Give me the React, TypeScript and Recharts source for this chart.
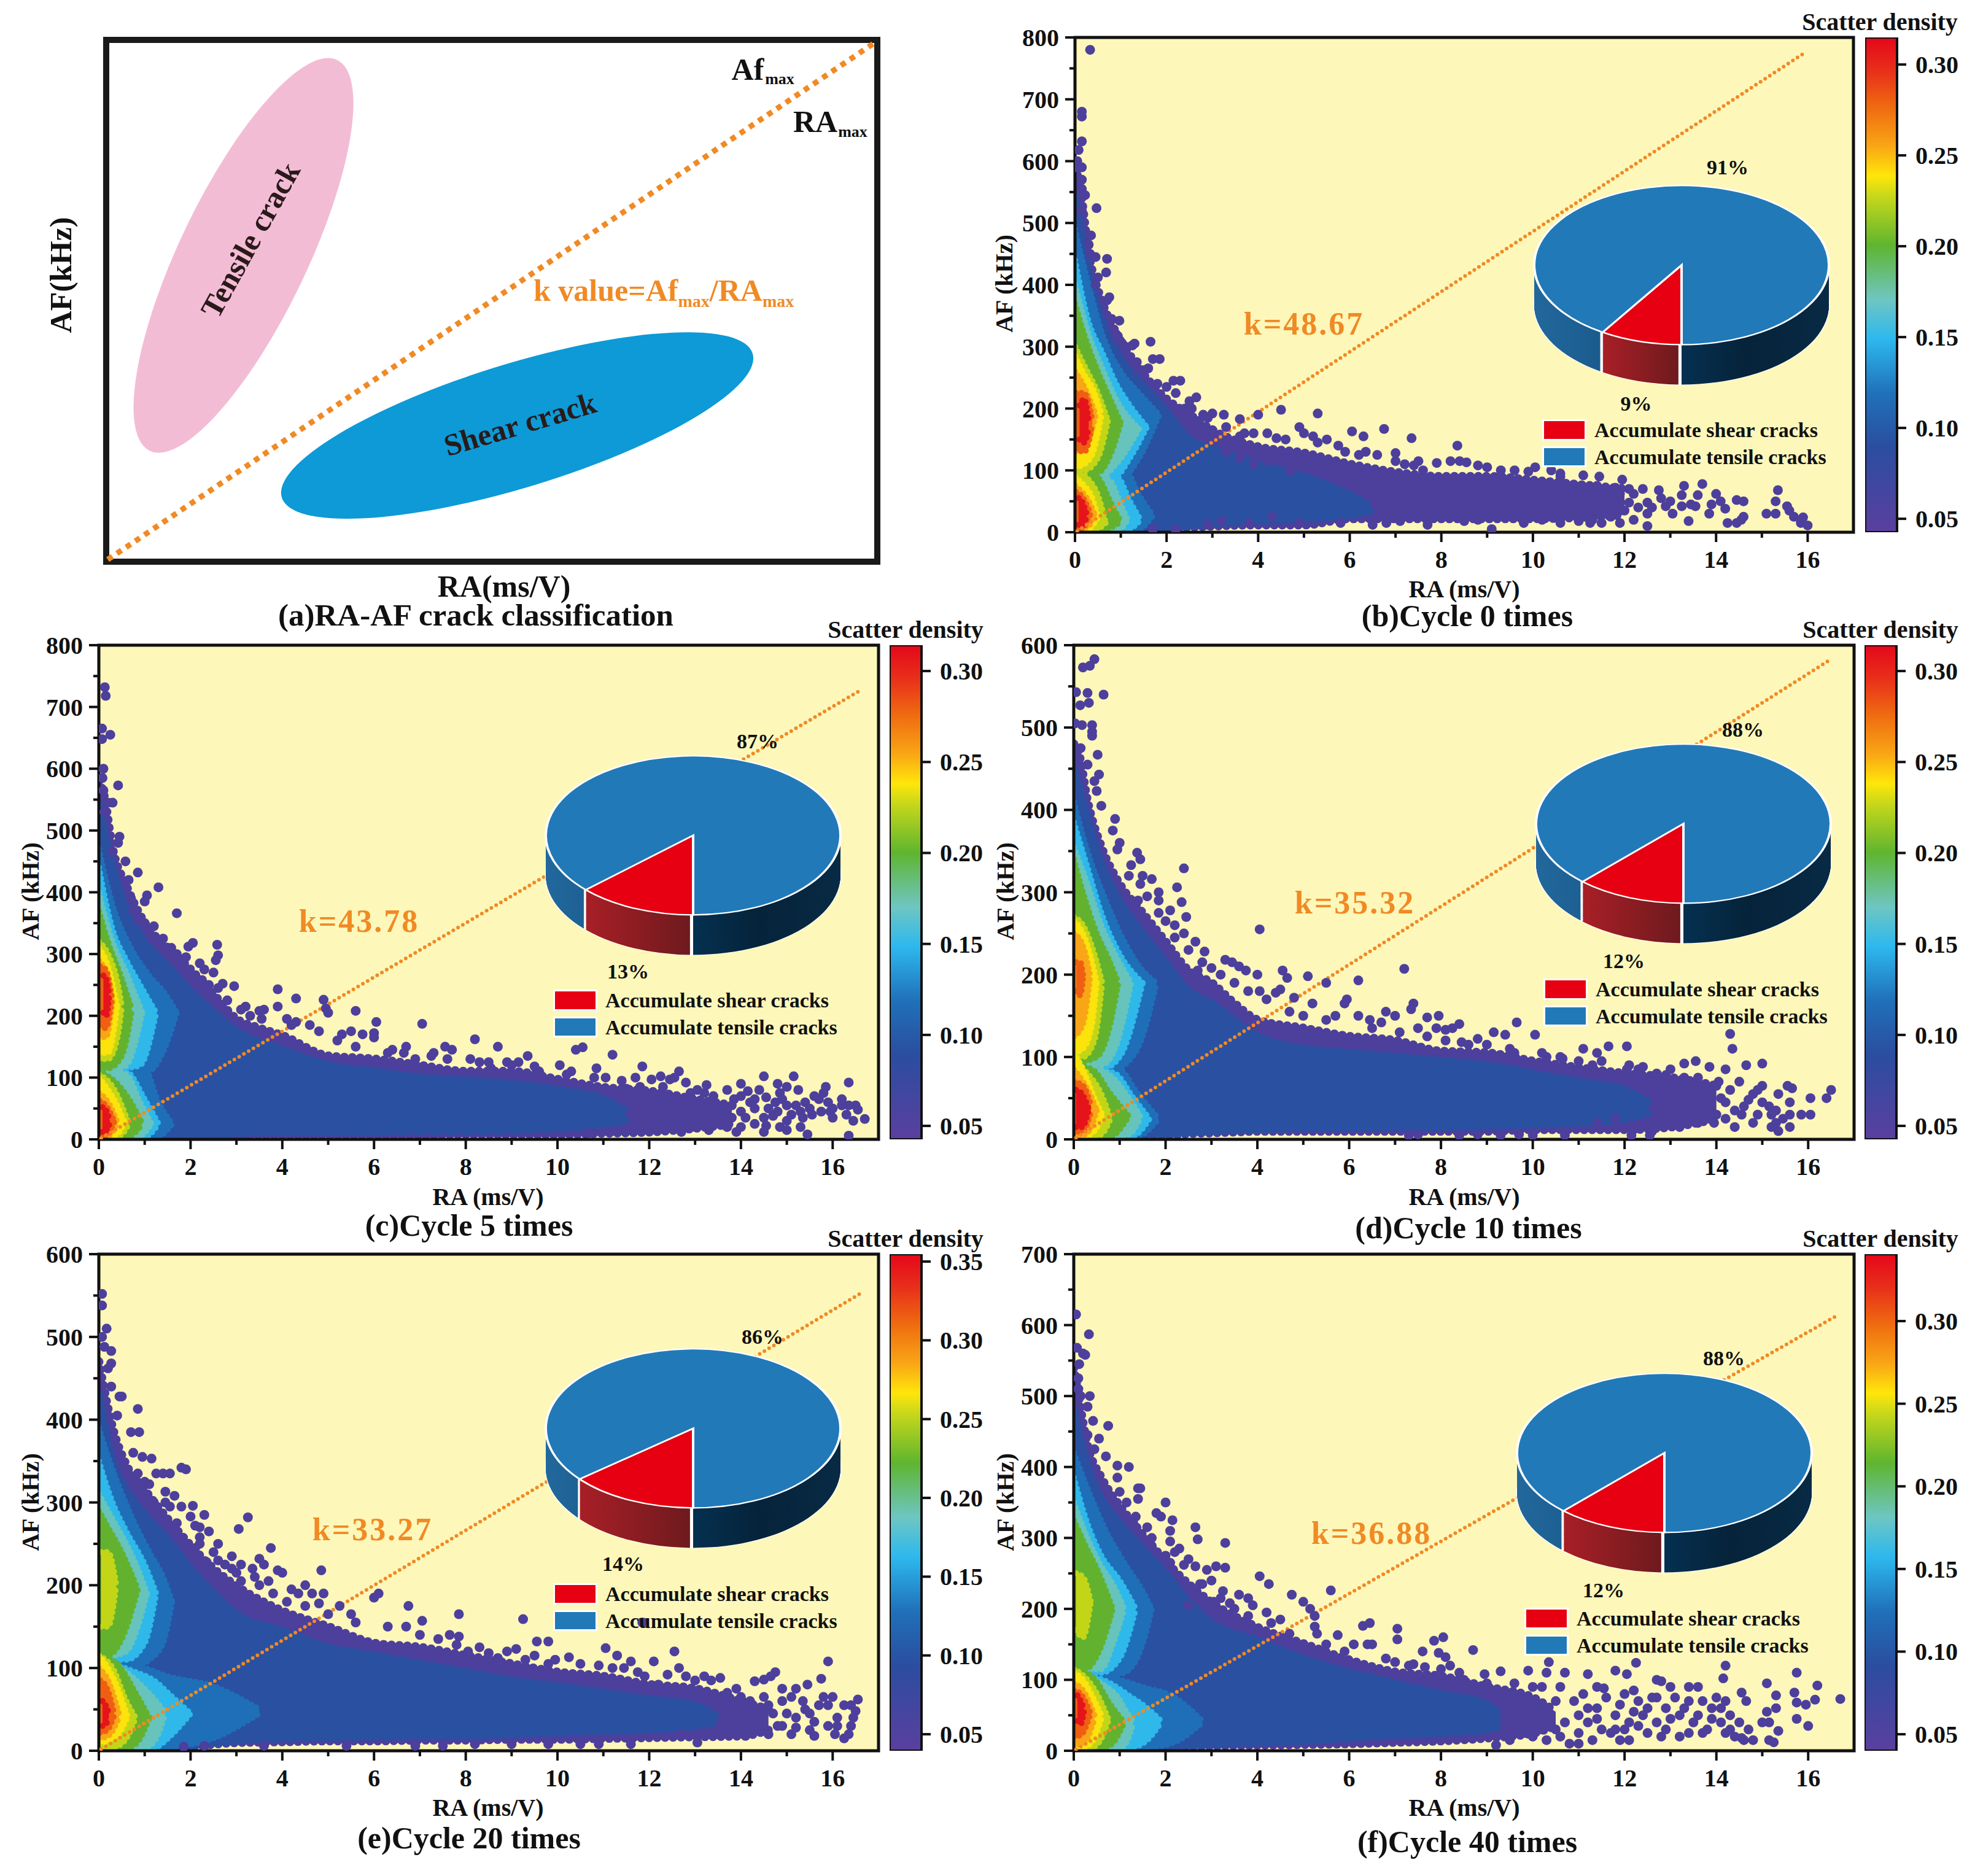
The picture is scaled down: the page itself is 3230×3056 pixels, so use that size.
import React from 'react';
import { ComposedChart, Area, Scatter, Line, Bar, XAxis, YAxis, ReferenceArea, PieChart, Pie, Cell } from 'recharts';

const FONT = '"Liberation Serif", serif';
const ORANGE = '#f08a24';

// density colours, level 0 is the sparse purple edge, level 10 the red core
const levelColors = ['#4d3f9c', '#2a50a2', '#1f6fb8', '#2fb8ea', '#66c4bc', '#62b22f', '#c2d617', '#fbe30c', '#f9a616', '#ef5f12', '#e5141b'];
const barStops: [number, string][] = [[0, '#5b3f9e'], [0.17, '#2b4da0'], [0.28, '#2070b8'], [0.39, '#2db8ee'], [0.47, '#6ec6c2'], [0.58, '#5fb52f'], [0.68, '#c8d81a'], [0.72, '#ffe60a'], [0.78, '#f9a615'], [0.86, '#ef6a10'], [0.93, '#e8311a'], [1, '#e5071a']];

const raTicks = [0, 1, 2, 3, 4, 5, 6, 7, 8, 9, 10, 11, 12, 13, 14, 15, 16];
const afTicks800 = [0, 50, 100, 150, 200, 250, 300, 350, 400, 450, 500, 550, 600, 650, 700, 750, 800];
const afTicks600 = [0, 50, 100, 150, 200, 250, 300, 350, 400, 450, 500, 550, 600];
const afTicks700 = [0, 50, 100, 150, 200, 250, 300, 350, 400, 450, 500, 550, 600, 650, 700];
const barTicks = [0.05, 0.1, 0.15, 0.2, 0.25, 0.3];
const barTicksE = [0.05, 0.1, 0.15, 0.2, 0.25, 0.3, 0.35];

// [level, RA positions, lower AF, upper AF]
type Band = [number, number[], number[], number[]];

const bandsB: Band[] = [
  [0, [0, .1, .3, .6, 1, 1.5, 2, 2.5, 3, 4, 5, 6, 7, 8, 9, 10, 11, 12], [0, 0, 0, 0, 2, 4, 5, 8, 10, 12, 12, 22, 22, 22, 22, 22, 24, 28], [590, 560, 450, 370, 310, 255, 215, 190, 165, 138, 128, 110, 97, 90, 90, 84, 77, 70]],
  [1, [0, .3, .6, 1, 1.5, 2, 2.5, 3, 4, 5, 6, 6.5], [0, 0, 0, 2, 4, 6, 10, 14, 18, 22, 28, 35], [540, 420, 340, 280, 235, 195, 150, 135, 110, 90, 60, 40]],
  [2, [0, .3, .6, 1, 1.4, 1.84], [70, 75, 80, 85, 120, 190], [490, 400, 320, 260, 225, 190]],
  [2, [0, .5, 1.1, 1.4, 1.7], [0, 0, 0, 4, 27], [100, 100, 100, 60, 27]],
  [3, [0, .3, .6, .9, 1.2, 1.57], [80, 85, 85, 90, 120, 170], [440, 340, 290, 240, 205, 170]],
  [3, [0, .5, .92, 1.2, 1.43], [0, 0, 0, 5, 20], [95, 95, 90, 50, 20]],
  [4, [0, .3, .6, .9, 1.4], [85, 85, 90, 110, 167], [400, 320, 265, 215, 167]],
  [4, [0, .5, .75, 1, 1.15], [0, 0, 0, 6, 20], [95, 90, 85, 45, 20]],
  [5, [0, .2, .5, .8, 1], [90, 90, 95, 130, 177], [370, 320, 260, 210, 177]],
  [5, [0, .3, .54, .8, 1], [0, 0, 2, 8, 17], [100, 100, 85, 45, 17]],
  [6, [0, .2, .5, .72], [100, 100, 120, 180], [300, 270, 225, 180]],
  [6, [0, .3, .5, .67], [0, 0, 5, 15], [100, 85, 60, 15]],
  [7, [0, .2, .4, .58], [105, 110, 130, 190], [285, 255, 230, 190]],
  [7, [0, .2, .35, .5], [0, 3, 8, 25], [90, 75, 60, 25]],
  [8, [0, .2, .45], [130, 135, 190], [260, 235, 190]],
  [8, [0, .15, .3, .42], [2, 5, 10, 30], [75, 65, 50, 30]],
  [9, [.02, .2, .38], [135, 130, 175], [225, 225, 180]],
  [9, [.02, .15, .33], [6, 6, 28], [65, 58, 32]],
  [10, [.1, .2, .3], [150, 145, 170], [205, 215, 180]],
  [10, [.08, .15, .25], [12, 10, 25], [55, 50, 30]],
];

const bandsC: Band[] = [
  [0, [0, .1, .3, .6, 1, 1.5, 2, 2.5, 3, 3.5, 4, 5, 6, 7, 8, 9, 10, 11, 12, 13, 13.8], [0, 0, 0, 0, 2, 5, 5, 6, 6, 7, 7, 7, 7, 7, 8, 8, 8, 10, 12, 18, 25], [580, 560, 470, 410, 350, 310, 275, 235, 195, 180, 168, 135, 130, 120, 110, 110, 97, 84, 78, 65, 55]],
  [1, [0, .3, .6, 1, 1.5, 2, 2.5, 3, 4, 5, 6, 7, 8, 9, 10, 11, 11.5], [0, 0, 0, 2, 5, 6, 8, 10, 12, 12, 12, 14, 14, 15, 18, 25, 30], [540, 440, 375, 320, 280, 240, 205, 175, 145, 120, 110, 100, 95, 90, 80, 65, 45]],
  [2, [0, .3, .7, 1.1, 1.45, 1.7], [100, 100, 105, 110, 150, 205], [470, 380, 310, 265, 235, 205]],
  [2, [0, .5, 1, 1.3, 1.6], [0, 0, 0, 4, 25], [120, 120, 115, 60, 25]],
  [3, [0, .3, .6, .9, 1.25], [110, 110, 115, 120, 205], [440, 340, 290, 250, 205]],
  [3, [0, .6, 1, 1.3], [0, 0, 3, 25], [115, 110, 65, 25]],
  [4, [0, .3, .6, .95], [110, 112, 120, 205], [400, 320, 270, 205]],
  [4, [0, .6, .9, 1.15], [0, 0, 5, 25], [115, 105, 60, 25]],
  [5, [0, .2, .5, .72], [115, 115, 135, 210], [370, 320, 260, 210]],
  [5, [0, .4, .7, .95], [0, 1, 6, 25], [110, 90, 60, 25]],
  [6, [0, .2, .42, .5], [130, 130, 170, 215], [320, 300, 250, 215]],
  [6, [0, .3, .5, .65], [0, 2, 8, 25], [105, 85, 55, 25]],
  [7, [0, .2, .4], [140, 140, 215], [310, 280, 215]],
  [7, [0, .2, .4, .55], [2, 3, 8, 28], [100, 80, 55, 28]],
  [8, [0, .15, .3], [170, 165, 225], [290, 270, 225]],
  [8, [0, .2, .4], [3, 5, 28], [75, 60, 28]],
  [9, [.03, .15, .28], [185, 180, 225], [280, 275, 230]],
  [9, [.02, .15, .33], [6, 6, 28], [62, 55, 30]],
  [10, [.1, .16, .22], [205, 200, 230], [265, 260, 235]],
  [10, [.08, .15, .24], [12, 12, 28], [52, 48, 30]],
];

const bandsD: Band[] = [
  [0, [0, .1, .3, .6, 1, 1.5, 2, 2.5, 3, 3.5, 4, 5, 6, 7, 8, 9, 10, 11, 12, 13, 14], [0, 0, 0, 0, 2, 5, 5, 7, 8, 9, 10, 10, 10, 10, 10, 10, 12, 12, 12, 15, 25], [480, 470, 410, 355, 310, 275, 240, 205, 190, 165, 145, 135, 125, 120, 107, 105, 95, 87, 80, 75, 65]],
  [1, [0, .3, .6, 1, 1.5, 2, 2.5, 3, 4, 5, 6, 7, 8, 9, 10, 11, 12, 12.5], [0, 0, 0, 2, 5, 6, 8, 10, 12, 14, 14, 15, 15, 16, 18, 20, 25, 32], [450, 390, 335, 290, 250, 215, 180, 165, 125, 110, 105, 100, 95, 90, 80, 70, 60, 45]],
  [2, [0, .3, .7, 1.1, 1.5, 1.8], [75, 75, 80, 90, 125, 190], [410, 350, 290, 240, 205, 190]],
  [2, [0, .5, 1, 1.4, 1.85], [0, 0, 0, 3, 25], [90, 90, 85, 55, 25]],
  [3, [0, .3, .6, 1, 1.5], [85, 85, 85, 100, 190], [385, 330, 275, 225, 190]],
  [3, [0, .5, .9, 1.3, 1.65], [0, 0, 1, 4, 25], [85, 85, 80, 50, 25]],
  [4, [0, .3, .6, .9, 1.25], [90, 90, 90, 110, 190], [355, 310, 260, 225, 190]],
  [4, [0, .5, .85, 1.2, 1.45], [0, 0, 2, 6, 25], [85, 85, 75, 50, 28]],
  [5, [0, .2, .5, .75, .97], [95, 95, 100, 130, 190], [340, 300, 250, 220, 190]],
  [5, [0, .4, .8, 1.2], [0, 0, 3, 28], [90, 85, 55, 28]],
  [6, [0, .2, .45, .62], [100, 100, 120, 190], [270, 260, 225, 190]],
  [6, [0, .3, .6, .8], [0, 1, 6, 25], [95, 80, 55, 25]],
  [7, [0, .2, .4, .5], [105, 110, 140, 190], [265, 250, 215, 190]],
  [7, [0, .2, .45, .62], [1, 3, 10, 30], [105, 85, 50, 30]],
  [8, [0, .2, .35], [125, 140, 195], [250, 235, 200]],
  [8, [0, .2, .35, .5], [3, 5, 12, 35], [85, 70, 55, 35]],
  [9, [.05, .14, .2], [180, 175, 195], [215, 215, 200]],
  [9, [0, .2, .38], [8, 10, 35], [70, 65, 40]],
  [10, [.05, .18, .32], [15, 15, 35], [60, 55, 38]],
];

const bandsE: Band[] = [
  [0, [0, .1, .3, .6, 1, 1.5, 2, 2.5, 3, 4, 5, 6, 7, 8, 9, 10, 11, 12, 13, 14, 14.6], [0, 0, 0, 0, 2, 3, 5, 8, 10, 11, 12, 12, 13, 13, 14, 14, 15, 16, 17, 18, 25], [470, 440, 390, 345, 315, 280, 248, 220, 199, 169, 150, 130, 125, 115, 105, 95, 90, 80, 75, 60, 50]],
  [1, [0, .3, .6, 1, 1.5, 2, 2.5, 3, 4, 5, 6, 7, 8, 9, 10, 11, 12, 13, 13.5], [0, 0, 0, 0, 3, 6, 9, 12, 15, 16, 17, 18, 18, 20, 22, 24, 26, 30, 36], [430, 350, 315, 285, 255, 220, 190, 165, 145, 125, 115, 105, 95, 85, 78, 70, 62, 55, 40]],
  [2, [0, .3, .7, 1.1, 1.4, 1.6], [100, 100, 100, 110, 130, 180], [390, 340, 285, 240, 210, 180]],
  [2, [0, 1, 1.5, 2.5, 3.5], [0, 0, 3, 15, 45], [110, 100, 90, 78, 50]],
  [3, [0, .3, .6, 1, 1.25], [110, 110, 110, 130, 190], [350, 300, 265, 225, 190]],
  [3, [0, .8, 1.2, 1.6, 2], [0, 0, 3, 20, 45], [110, 95, 85, 65, 45]],
  [4, [0, .3, .6, .85, 1.05], [115, 115, 120, 150, 190], [310, 280, 250, 220, 190]],
  [4, [0, .6, 1, 1.25, 1.45], [0, 0, 3, 15, 45], [110, 95, 75, 60, 45]],
  [5, [0, .2, .5, .85], [115, 115, 135, 195], [290, 270, 240, 195]],
  [5, [0, .4, .8, 1.1], [0, 0, 8, 40], [115, 105, 70, 40]],
  [6, [.05, .2, .38], [150, 150, 200], [240, 240, 200]],
  [6, [0, .3, .6, .8], [0, 3, 15, 40], [115, 100, 60, 40]],
  [7, [0, .2, .45, .62], [10, 12, 22, 40], [115, 100, 70, 42]],
  [8, [0, .2, .45], [15, 18, 42], [100, 85, 42]],
  [9, [.03, .18, .33], [22, 25, 42], [85, 75, 45]],
  [10, [.08, .15, .22], [30, 32, 40], [60, 55, 45]],
];

const bandsF: Band[] = [
  [0, [0, .1, .3, .6, 1, 1.5, 2, 2.5, 3, 4, 5, 6, 7, 8, 9, 10, 10.5], [0, 0, 0, 0, 1, 3, 5, 6, 7, 8, 9, 10, 12, 14, 18, 25, 35], [540, 500, 430, 385, 345, 305, 267, 235, 209, 174, 151, 128, 111, 105, 90, 75, 55]],
  [1, [0, .3, .6, 1, 1.5, 2, 2.5, 3, 4, 5, 6, 7, 8, 9, 9.3], [0, 0, 0, 0, 3, 5, 7, 9, 12, 14, 18, 22, 25, 30, 35], [480, 400, 355, 320, 285, 250, 210, 180, 155, 130, 110, 95, 80, 65, 50]],
  [2, [0, .3, .7, 1.1, 1.5, 1.7], [100, 100, 105, 110, 150, 200], [420, 370, 310, 265, 225, 200]],
  [2, [0, 1, 1.5, 2.2, 2.8], [0, 0, 3, 12, 40], [110, 100, 90, 75, 42]],
  [3, [0, .3, .6, 1, 1.35], [110, 110, 110, 130, 200], [385, 320, 275, 240, 200]],
  [3, [0, .8, 1.2, 1.6, 1.9], [0, 0, 3, 15, 40], [110, 95, 78, 60, 42]],
  [4, [0, .3, .6, .85, 1.1], [115, 115, 115, 150, 200], [350, 300, 260, 235, 200]],
  [4, [0, .6, 1, 1.15, 1.3], [0, 0, 3, 12, 40], [110, 95, 72, 55, 42]],
  [5, [0, .25, .55, .85], [115, 115, 140, 200], [325, 290, 250, 200]],
  [5, [0, .4, .8, 1.1], [0, 0, 8, 40], [115, 105, 65, 40]],
  [6, [.05, .2, .37], [170, 160, 210], [250, 245, 210]],
  [6, [0, .3, .55, .75], [0, 2, 12, 42], [115, 100, 75, 45]],
  [7, [0, .2, .42, .6], [2, 4, 15, 45], [110, 100, 75, 50]],
  [8, [0, .2, .45], [8, 10, 45], [95, 85, 50]],
  [9, [0, .15, .35], [20, 22, 50], [85, 80, 55]],
  [10, [.08, .15, .22], [42, 38, 55], [78, 70, 60]],
];

const dotsB = [[.33, 780], [.15, 680], [.15, 672], [.15, 632], [.08, 618], [.05, 600], [.05, 590], [.15, 590], [.15, 570], [.15, 555], [.22, 545], [.47, 524], [.15, 520], [.35, 480], [.3, 465], [.33, 450], [.45, 445], [.7, 442], [.68, 420], [.5, 412], [.45, 400], [.75, 380], [.7, 375], [.8, 345], [.97, 342], [.9, 320], [.98, 310], [1.3, 305], [1.65, 308], [1.1, 300], [1.25, 302], [1.7, 280], [1.85, 280], [1.6, 265], [2.15, 245], [2.3, 245], [1.8, 240], [2.65, 218], [2.55, 200], [2.4, 200], [2.8, 190], [3, 192], [3.25, 190], [3.6, 183], [4, 190], [4.5, 198], [5.3, 192], [4.9, 170], [5, 160], [5.2, 155], [4.4, 152], [3.9, 160], [3.6, 155], [6.05, 163], [6.3, 155], [6.75, 167], [7.35, 152], [6.35, 130], [6.2, 125], [8.35, 140], [8.2, 115], [8.4, 115], [8.55, 113], [7.2, 110], [7, 115], [7.4, 108], [7.6, 100], [9, 105], [9.6, 100], [10.05, 105], [10.4, 100], [10.6, 90], [11.45, 90], [11.95, 85], [12.1, 70], [13.3, 75], [13.7, 78], [13.25, 60], [14, 62], [14.1, 50], [14.45, 52], [14.6, 50], [14.2, 38], [13.85, 30], [13.4, 18], [14.25, 15], [14.55, 20], [14.45, 15], [14.6, 25], [15.35, 68], [15.3, 50], [15.1, 30], [15.3, 30], [15.55, 42], [15.6, 35], [15.7, 25], [15.9, 24], [15.85, 15], [16, 11], [12.5, 48], [12.75, 68], [12.6, 40], [12.9, 42], [13.05, 30], [13.25, 42], [13.45, 45], [13.55, 42], [12.5, 10], [12.5, 30], [12.2, 20], [12.1, 48], [11.75, 45], [11.7, 25], [11.45, 30], [11.25, 15], [11.5, 15], [5.8, 15], [6.5, 12], [6.8, 15], [7.1, 18], [7.7, 12], [8.5, 18], [8.8, 20], [9.1, 5], [9.8, 15], [10.2, 20], [10.6, 15], [11, 18], [4.9, 15], [4.3, 25], [3.8, 15], [3.2, 18], [2.9, 12], [2.2, 4], [1.7, 5], [3.9, 110], [4.2, 115], [4.7, 100], [3.3, 130], [3.6, 120], [3, 165], [2.7, 180], [1.35, 275], [1.5, 262], [2, 235], [2.2, 225], [2.5, 212], [2.9, 185], [3.3, 170], [3.7, 160], [4.2, 160], [4.6, 150], [5.3, 145], [5.5, 150], [5.75, 140], [5.9, 130], [6.6, 125], [7, 128], [7.5, 115], [7.9, 112], [8.8, 108], [9.3, 100], [9.9, 98], [10.6, 95], [11.1, 92], [11.4, 75], [11.8, 72], [12.2, 62], [12.4, 70], [12.3, 40], [12.8, 55], [13, 50], [11.9, 62], [12, 35], [11.3, 20], [11.9, 15], [13.6, 60], [13.9, 45]];

const dotsC = [[.13, 732], [.15, 718], [.07, 665], [.07, 648], [.25, 655], [.1, 600], [.08, 585], [.42, 573], [.1, 565], [.3, 545], [.2, 545], [.12, 530], [.45, 490], [.42, 480], [.3, 465], [.58, 450], [.85, 432], [.65, 420], [1.3, 408], [1.05, 395], [1, 385], [.7, 390], [.75, 370], [1.7, 366], [.85, 355], [1, 350], [1.2, 345], [1.15, 325], [1.58, 310], [1.95, 312], [2.05, 318], [2.58, 315], [2.6, 298], [2.55, 290], [2.3, 275], [2.5, 270], [2.1, 265], [2.25, 258], [2.7, 252], [2.95, 248], [2.6, 245], [3.1, 210], [3.5, 208], [3.55, 195], [3.9, 243], [3.9, 215], [4.3, 228], [4.9, 226], [4.95, 212], [5, 205], [5.6, 208], [4.3, 190], [4.2, 185], [6.05, 190], [7.05, 187], [5.5, 175], [5.3, 170], [5.75, 170], [6, 172], [6, 165], [6.7, 150], [6.4, 145], [6.65, 140], [7.7, 145], [7.55, 150], [8.2, 162], [8.7, 150], [7.25, 135], [7.3, 140], [9.35, 135], [8.1, 130], [8.3, 125], [8.55, 115], [8.9, 125], [9, 120], [9.15, 125], [10.05, 120], [10.4, 145], [10.55, 149], [11.2, 137], [9.6, 110], [10.3, 110], [10.85, 115], [11.85, 118], [11.05, 100], [11.4, 95], [11.7, 100], [11.8, 85], [12.05, 97], [12.25, 102], [12.45, 97], [12.65, 110], [12.55, 100], [12.8, 92], [13.05, 80], [13.25, 88], [13.2, 75], [14, 90], [14.5, 102], [14.15, 78], [14.4, 80], [14.8, 90], [15.15, 102], [15, 85], [14.85, 75], [15.25, 80], [15.4, 60], [15.2, 55], [14.75, 60], [14, 70], [13.85, 65], [13.6, 50], [13.4, 45], [13.3, 40], [13.5, 30], [14.3, 50], [14.7, 38], [14.1, 35], [14.3, 25], [14.55, 22], [14.85, 20], [15, 15], [15.35, 35], [15.1, 40], [15.45, 8], [16.35, 6], [15.85, 85], [16.35, 92], [15.8, 75], [15.7, 65], [15.95, 45], [15.75, 45], [16, 50], [16.2, 65], [16.35, 55], [16.55, 48], [16.7, 33], [16.45, 30], [16.2, 55], [13, 20], [13.05, 40], [12.7, 30], [12.15, 25], [11.8, 15], [11.5, 18], [10.7, 10], [12.2, 15], [12.7, 12], [14.8, 45], [14.55, 68], [13.7, 80], [15.55, 40], [1.4, 325], [1.7, 300], [1.9, 295], [2.2, 285], [2.4, 250], [2.8, 225], [3.2, 215], [3.6, 210], [3.3, 200], [4.1, 195], [4.6, 185], [4.8, 175], [5.2, 160], [5.6, 150], [6.3, 140], [6.9, 130], [7.6, 130], [8.5, 125], [9.5, 118], [10.2, 105], [10.8, 100], [11.5, 82], [12.3, 85], [12.9, 75], [13.4, 70], [13.8, 55], [14.2, 60], [14.6, 50], [15, 55], [15.3, 45], [15, 30], [14.5, 35], [14, 45], [14, 20], [13.7, 20], [13.3, 15], [13.8, 35], [15.6, 70], [15.9, 60], [16.3, 40], [13.9, 12], [14.5, 12], [15.3, 20], [16, 35], [16.5, 55], [14.3, 65], [14.9, 65], [15.5, 50]];

const dotsD = [[.45, 583], [.35, 575], [.2, 573], [.05, 543], [.3, 542], [.65, 540], [.33, 530], [.14, 527], [.03, 505], [.18, 503], [.4, 503], [.4, 495], [.4, 490], [.15, 475], [.52, 467], [.3, 455], [.55, 443], [.45, 435], [.5, 423], [.9, 389], [.6, 405], [.85, 375], [1, 360], [.95, 352], [1.38, 348], [1.45, 340], [1.25, 333], [2.4, 329], [1.5, 320], [1.7, 316], [1.45, 310], [2.25, 306], [1.85, 300], [1.85, 290], [2.35, 288], [1.85, 275], [2.1, 278], [2.45, 270], [2, 265], [2.65, 240], [4.05, 255], [2.85, 228], [3.3, 218], [3.45, 215], [3.6, 210], [3.75, 205], [3, 208], [2.7, 205], [4, 200], [4.55, 205], [4.65, 196], [5.1, 198], [4.4, 178], [4.05, 180], [4.5, 182], [4.8, 172], [5.5, 190], [7.2, 207], [6.2, 193], [5.95, 170], [5.9, 165], [5.2, 165], [7.4, 165], [7.35, 158], [6.8, 155], [7, 150], [7.7, 148], [7.95, 150], [6.2, 150], [6.45, 145], [6.7, 142], [8.4, 140], [8.1, 133], [8.25, 135], [7.9, 135], [7.7, 125], [8.45, 118], [8.8, 122], [9.15, 130], [9.4, 127], [9.65, 142], [10.05, 127], [9.6, 105], [10.3, 100], [10.65, 98], [11.1, 110], [11.4, 105], [11.65, 113], [12.05, 113], [12.1, 90], [11, 95], [11.3, 90], [12.3, 85], [12.05, 85], [13.3, 92], [13.55, 95], [13.85, 88], [14.3, 128], [14.35, 110], [14.2, 85], [14.65, 90], [15, 92], [15, 65], [14.9, 60], [14.5, 70], [14.05, 70], [13.65, 60], [13.3, 75], [12.9, 78], [13, 60], [12.6, 72], [13.4, 50], [14.1, 50], [14.7, 48], [15.15, 40], [15.35, 55], [15.65, 62], [15.55, 65], [15.3, 35], [15.6, 30], [15.85, 30], [16.05, 30], [16.05, 50], [16.4, 50], [16.5, 60], [15.6, 15], [15.35, 10], [15.2, 15], [14.55, 30], [14.2, 25], [13.95, 20], [13.6, 20], [13.25, 25], [12.15, 5], [12.55, 5], [12.2, 12], [11.8, 25], [11.4, 20], [10.7, 5], [10, 5], [9.7, 6], [9.3, 5], [8.8, 6], [8.4, 5], [7.3, 5], [7.5, 6], [12.8, 40], [14.4, 35], [15.45, 25], [14.3, 60], [13.8, 40], [1.2, 320], [1.6, 295], [1.4, 290], [2.2, 260], [2.2, 245], [2.5, 230], [2.4, 250], [2.8, 215], [3.2, 200], [3.5, 190], [3.8, 180], [4.2, 170], [4.7, 155], [5, 150], [5.5, 145], [5.7, 150], [6.5, 135], [7.1, 130], [7.5, 135], [8.1, 120], [8.6, 115], [9, 115], [9.5, 110], [10.2, 105], [10.6, 100], [11.5, 95], [12.4, 88], [12.7, 80], [13, 85], [13.6, 75], [14, 65], [13.4, 65], [14.2, 45], [14.8, 55], [14.6, 40], [13.5, 35], [14, 30], [14.9, 30], [15.2, 30], [14.8, 20], [15, 45], [15.6, 45], [15.3, 20], [13.2, 15], [14.4, 15], [12.6, 10]];

const dotsE = [[.07, 552], [.07, 538], [.17, 510], [.07, 500], [.12, 488], [.27, 483], [.27, 468], [.2, 462], [.27, 440], [.45, 428], [.5, 428], [.85, 413], [.4, 405], [.7, 385], [.88, 385], [.75, 360], [.95, 355], [1.15, 353], [.85, 335], [1.8, 342], [1.9, 340], [1.25, 335], [1.4, 335], [1.55, 335], [1, 325], [1.1, 322], [.8, 320], [1.45, 313], [1.65, 308], [2.05, 296], [1.45, 300], [1.55, 295], [1.8, 295], [2, 283], [3.25, 282], [3.05, 268], [2.1, 272], [2.2, 270], [2.2, 258], [2.2, 250], [2.1, 245], [2.35, 228], [2.6, 230], [2.9, 235], [2.75, 225], [3.1, 225], [3.35, 220], [3.75, 245], [3.5, 232], [3.6, 225], [3, 215], [3.9, 218], [4, 215], [4.85, 218], [3.1, 205], [3.5, 200], [4.5, 200], [4.65, 190], [4.35, 190], [4.1, 180], [4.9, 190], [4.8, 178], [3.8, 190], [5.25, 175], [6, 185], [6.1, 190], [6.75, 175], [5.5, 165], [7.05, 157], [7.85, 165], [9.25, 159], [6.7, 150], [7.65, 140], [7.85, 138], [7.8, 128], [9.55, 132], [9.8, 132], [8.05, 120], [8.5, 118], [8.9, 120], [9.1, 123], [9.5, 115], [9.95, 110], [10.25, 113], [10.9, 103], [11.05, 124], [11.3, 115], [11.6, 108], [11.45, 100], [11.75, 95], [12.1, 108], [12.55, 120], [12.8, 90], [13.2, 90], [13.55, 88], [13.35, 85], [12.2, 80], [12.65, 100], [14.3, 84], [14.5, 86], [14.75, 95], [14.65, 90], [15.9, 108], [15.75, 87], [15.45, 80], [14.9, 75], [14.2, 60], [13.8, 55], [15.1, 65], [15.35, 60], [15.4, 50], [15.5, 45], [15.9, 55], [16, 65], [16.25, 55], [16.55, 62], [16.5, 48], [16.45, 40], [16.4, 30], [16.1, 40], [15.9, 30], [16.05, 20], [16.25, 15], [16.35, 20], [15.5, 25], [15.2, 28], [14.8, 30], [14.4, 30], [14.05, 30], [13.05, 10], [12.7, 20], [11.85, 155], [14.2, 40], [14.6, 55], [15, 45], [13.6, 40], [11.6, 8], [10.5, 8], [10.9, 8], [9.8, 8], [9, 8], [8.2, 8], [7.5, 6], [6.9, 6], [5.4, 6], [3.6, 6], [2.3, 6], [1.85, 5], [1.2, 300], [1.7, 275], [2.3, 285], [2.4, 265], [2.6, 250], [2.5, 240], [2.9, 220], [3.4, 210], [3.7, 205], [4.2, 195], [4.5, 175], [5, 165], [5.6, 155], [6.3, 150], [7, 140], [7.4, 135], [8.3, 125], [8.7, 112], [9.3, 110], [9.8, 105], [10.5, 105], [11.2, 100], [11.9, 90], [12.4, 92], [13, 85], [13.7, 70], [14, 65], [14.5, 65], [14.9, 60], [14.7, 45], [14.9, 30], [15.2, 40], [15.6, 35], [15.7, 55], [15.8, 65], [16.1, 30], [15.1, 20], [15.6, 18], [14.6, 20], [14.1, 18], [16.4, 55], [13.9, 75], [15.2, 75]];

const dotsF = [[.05, 615], [.33, 587], [.07, 568], [.2, 560], [.25, 558], [.12, 545], [.1, 525], [.1, 510], [.15, 500], [.35, 500], [.3, 485], [.42, 465], [.75, 458], [.3, 445], [.55, 440], [.45, 425], [.7, 415], [.95, 402], [1.2, 400], [.95, 385], [1.4, 370], [1.45, 370], [1, 365], [1.4, 355], [1.15, 350], [1, 340], [2, 350], [1.8, 335], [1.9, 330], [2.15, 325], [1.35, 330], [1.6, 315], [2.1, 310], [2.65, 315], [2.7, 298], [2.1, 295], [3.3, 293], [1.8, 280], [2, 275], [2.1, 265], [2.4, 262], [2.65, 260], [2.9, 255], [3.1, 260], [3.3, 258], [4.05, 246], [4.25, 235], [2.65, 225], [2.75, 235], [3, 240], [3.25, 225], [5.6, 226], [3.6, 220], [3.8, 215], [4.75, 220], [3.05, 210], [3.4, 208], [3.9, 205], [5, 210], [5.15, 200], [2.5, 205], [4.2, 195], [5.25, 190], [4.5, 185], [5.25, 175], [5.3, 165], [5.75, 163], [6.3, 176], [6.45, 180], [7.05, 172], [7.05, 157], [7.85, 155], [8.05, 160], [6.1, 150], [6.4, 150], [6.5, 150], [7.6, 140], [7.95, 138], [8.1, 132], [8.7, 142], [7, 125], [7.4, 122], [7.65, 118], [8.2, 120], [8.4, 110], [8.95, 108], [9.3, 112], [9.9, 113], [10.3, 110], [10.35, 125], [10.7, 110], [11.2, 108], [11.8, 113], [12.05, 108], [12.25, 124], [12.7, 100], [12.8, 98], [14.2, 120], [14.15, 102], [14.2, 70], [14.55, 82], [14.65, 70], [15.1, 95], [15.75, 110], [15.7, 82], [15.3, 78], [15.75, 68], [15.95, 65], [16.15, 72], [16.2, 92], [16.7, 73], [15.75, 45], [16, 35], [15.1, 55], [15.3, 60], [15.15, 40], [15, 40], [15.35, 28], [15.25, 12], [15.15, 15], [14.8, 15], [14.55, 18], [14.4, 20], [14.3, 30], [14.1, 40], [13.9, 60], [13.6, 90], [13.4, 90], [13.1, 75], [13, 90], [12.9, 60], [12.5, 60], [12.7, 40], [12.3, 35], [12, 30], [12, 80], [12.2, 55], [11.8, 50], [11.4, 60], [11.1, 80], [11.4, 90], [11.55, 88], [11, 25], [10.8, 10], [10.5, 30], [10.3, 15], [10, 40], [9.6, 30], [9.2, 8], [10.5, 70], [10.6, 90], [11.7, 25], [11.9, 15], [13.4, 25], [13.6, 50], [13.8, 30], [14, 75], [13.3, 60], [12.8, 20], [12.1, 15], [12.3, 70], [12.6, 75], [11.2, 40], [11.5, 30], [1.3, 320], [1.7, 300], [2.3, 285], [2.2, 280], [2.5, 270], [2.8, 235], [3.2, 215], [3.5, 200], [3.8, 190], [4.3, 180], [4.7, 165], [5.5, 150], [5.9, 140], [6.8, 130], [7.3, 120], [8, 115], [8.5, 100], [9, 95], [9.6, 95], [10, 90], [10.2, 90], [10.9, 70], [11, 50], [11.2, 60], [11.4, 45], [11.6, 75], [11.9, 65], [12.2, 85], [12.4, 50], [12.5, 25], [12.7, 75], [12.9, 30], [13, 45], [13.2, 50], [13.2, 20], [13.4, 70], [13.5, 40], [13.7, 70], [13.7, 25], [13.9, 45], [14.1, 60], [14.2, 25], [14.3, 50], [14.5, 40], [14.7, 30], [14.6, 15], [10, 20], [10.2, 30], [10.7, 40], [10.6, 20], [11, 10], [11.3, 15], [11.8, 30], [12.1, 40], [9.8, 25], [9.5, 15]];

// fit line ends, [RA, AF]
const lineB = [[.05, 2], [15.97, 777]];
const lineC = [[.05, 2], [16.65, 729]];
const lineD = [[.05, 2], [16.47, 582]];
const lineE = [[.05, 2], [16.59, 552]];
const lineF = [[.05, 2], [16.67, 615]];

const SERIF: React.CSSProperties = { position: 'absolute', fontFamily: FONT, fontWeight: 700, color: '#111', whiteSpace: 'nowrap', lineHeight: 0.85 };

function Txt({ x, y, size = 40, rotate = 0, color = '#111', spacing = 0, children }: any) {
  return (
    <div style={{ ...SERIF, left: x, top: y, fontSize: size, color, letterSpacing: spacing, transform: `translate(-50%,-50%) rotate(${rotate}deg)` }}>
      {children}
    </div>
  );
}

const xTick = ({ x, y, payload }: any) => (
  <g>
    <line x1={x} x2={x} y1={y} y2={y + (payload.value % 2 === 0 ? 16 : 9)} stroke="#111" strokeWidth={4} />
    {payload.value % 2 === 0 && (
      <text x={x} y={y + 58} textAnchor="middle" fontFamily={FONT} fontWeight={700} fontSize={40} fill="#111">{payload.value}</text>
    )}
  </g>
);

const yTick = ({ x, y, payload }: any) => (
  <g>
    <line x1={x} x2={x - (payload.value % 100 === 0 ? 16 : 9)} y1={y} y2={y} stroke="#111" strokeWidth={4} />
    {payload.value % 100 === 0 && (
      <text x={x - 26} y={y + 14} textAnchor="end" fontFamily={FONT} fontWeight={700} fontSize={40} fill="#111">{payload.value}</text>
    )}
  </g>
);

const barTick = ({ x, y, payload }: any) => (
  <g>
    <line x1={x} x2={x + 15} y1={y} y2={y} stroke="#111" strokeWidth={4} />
    <text x={x + 30} y={y + 14} fontFamily={FONT} fontWeight={700} fontSize={40} fill="#111">{payload.value.toFixed(2)}</text>
  </g>
);

const dotShape = ({ cx, cy }: any) => <circle cx={cx} cy={cy} r={8} fill={levelColors[0]} />;

function Density({ id, left, right, top, bottom, max, afTicks, bands, dots, line }: any) {
  const dotData = dots.map(([x, y]: number[]) => ({ x, y }));
  const lineData = line.map(([x, y]: number[]) => ({ x, y }));
  return (
    <div style={{ position: 'absolute', left: left - 120, top: top - 30 }}>
      <ComposedChart width={right - left + 130} height={bottom - top + 100} margin={{ top: 30, right: 10, left: 0, bottom: 0 }}>
        <XAxis dataKey="x" type="number" domain={[0, 17]} ticks={raTicks} interval={0} height={70} tickSize={0} tickMargin={0} axisLine={false} tickLine={false} tick={xTick} allowDataOverflow />
        <YAxis dataKey="y" type="number" domain={[0, max]} ticks={afTicks} interval={0} width={120} tickSize={0} tickMargin={0} axisLine={false} tickLine={false} tick={yTick} allowDataOverflow />
        <ReferenceArea x1={0} x2={17} y1={0} y2={max} fill="#fdf7ba" fillOpacity={1} stroke="none" />
        <Scatter name={`${id}-dots`} data={dotData} shape={dotShape} isAnimationActive={false} />
        {bands.map(([level, xs, lo, hi]: Band, i: number) => (
          <Area
            key={i}
            data={xs.map((x, k) => ({ x, v: [lo[k], hi[k]] }))}
            dataKey="v"
            type="monotone"
            fill={levelColors[level]}
            fillOpacity={1}
            stroke={levelColors[level]}
            strokeWidth={level < 2 ? 15 : 10}
            strokeLinecap="round"
            strokeDasharray={level < 2 ? '0 13' : '0 9'}
            dot={false}
            activeDot={false}
            isAnimationActive={false}
          />
        ))}
        <Line data={lineData} dataKey="y" type="linear" stroke={ORANGE} strokeWidth={6} strokeLinecap="round" strokeDasharray="0 9" dot={false} activeDot={false} isAnimationActive={false} />
        <ReferenceArea x1={0} x2={17} y1={0} y2={max} fill="none" stroke="#111" strokeWidth={5} ifOverflow="visible" />
      </ComposedChart>
    </div>
  );
}

function ColorBar({ id, left, top, bottom, lo, hi, ticks }: any) {
  return (
    <div style={{ position: 'absolute', left, top }}>
      <ComposedChart width={200} height={bottom - top} data={[{ c: 'bar', v: [lo, hi] }]} margin={{ top: 0, right: 0, left: 0, bottom: 0 }} barCategoryGap={0}>
        <defs>
          <linearGradient id={`bar-${id}`} x1="0" y1="1" x2="0" y2="0">
            {barStops.map(([o, c]) => <stop key={o} offset={o} stopColor={c} />)}
          </linearGradient>
        </defs>
        <XAxis dataKey="c" type="category" hide />
        <YAxis orientation="right" type="number" domain={[lo, hi]} ticks={ticks} interval={0} width={148} tickSize={0} tickMargin={0} axisLine={false} tickLine={false} tick={barTick} allowDataOverflow />
        <Bar dataKey="v" fill={`url(#bar-${id})`} stroke="#111" strokeWidth={4} isAnimationActive={false} />
      </ComposedChart>
    </div>
  );
}

const SQUASH = 0.54;

function Pie3D({ id, cx, cy, rx, wall, shear }: any) {
  const sliceData = [{ name: 'shear', value: shear }, { name: 'tensile', value: 100 - shear }];
  const wallData = [{ value: 0.35 }, { value: shear - 0.35 }, { value: 0.35 }, { value: 100 - shear - 0.35 }];
  const wallFill = ['#ffffff', `url(#wr-${id})`, '#ffffff', `url(#wb-${id})`];
  const layers: number[] = [];
  for (let d = wall / SQUASH; d > 0; d -= 1.5) layers.push(d);
  const size = rx + 6;
  return (
    <div style={{ position: 'absolute', left: cx - size, top: cy - size * SQUASH, transform: `scaleY(${SQUASH})`, transformOrigin: 'top left' }}>
      <PieChart width={size * 2} height={size * 2 + wall / SQUASH + 6} margin={{ top: 0, right: 0, left: 0, bottom: 0 }}>
        <defs>
          <linearGradient id={`wr-${id}`} x1="0" y1="0" x2="1" y2="0">
            <stop offset="0" stopColor="#a81f26" />
            <stop offset="1" stopColor="#6c1a1e" />
          </linearGradient>
          <linearGradient id={`wb-${id}`} x1="0" y1="0" x2="1" y2="0">
            <stop offset="0" stopColor="#22689c" />
            <stop offset="0.25" stopColor="#1a5a8c" />
            <stop offset="0.5" stopColor="#053050" />
            <stop offset="0.72" stopColor="#06233a" />
            <stop offset="1" stopColor="#082a44" />
          </linearGradient>
        </defs>
        <Pie data={wallData} dataKey="value" cx={size} cy={size + wall / SQUASH} outerRadius={rx} startAngle={270} endAngle={-90} stroke="#fff" strokeWidth={3} isAnimationActive={false}>
          {wallFill.map((f, i) => <Cell key={i} fill={f} />)}
        </Pie>
        {layers.map((d) => (
          <Pie key={d} data={wallData} dataKey="value" cx={size} cy={size + d} outerRadius={rx} startAngle={270} endAngle={-90} stroke="none" isAnimationActive={false}>
            {wallFill.map((f, i) => <Cell key={i} fill={f} />)}
          </Pie>
        ))}
        <Pie data={sliceData} dataKey="value" cx={size} cy={size} outerRadius={rx} startAngle={270} endAngle={-90} stroke="#fff" strokeWidth={4} isAnimationActive={false}>
          <Cell fill="#e60012" />
          <Cell fill="#2279b8" />
        </Pie>
      </PieChart>
    </div>
  );
}

function LegendRow({ x, top, bottom, labelX, labelY, color, children }: any) {
  return (
    <>
      <div style={{ position: 'absolute', left: x, top, width: 72, height: bottom - top, background: color, border: '3px solid #fff', boxSizing: 'border-box' }} />
      <div style={{ ...SERIF, left: labelX, top: labelY - 15, fontSize: 34 }}>{children}</div>
    </>
  );
}

function Panel(p: any) {
  return (
    <>
      <Density id={p.id} left={p.left} right={p.right} top={p.top} bottom={p.bottom} max={p.max} afTicks={p.afTicks} bands={p.bands} dots={p.dots} line={p.line} />
      <ColorBar id={p.id} left={p.barLeft} top={p.top} bottom={p.bottom} lo={p.barLo} hi={p.barHi} ticks={p.barTicks} />
      <Pie3D id={p.id} cx={p.pieX} cy={p.pieY} rx={240} wall={65} shear={p.shear} />
      <Txt x={p.titleX} y={p.top - 25} size={40}>Scatter density</Txt>
      <Txt x={p.kX} y={p.kY} size={52} color={ORANGE} spacing={3}>{p.k}</Txt>
      <Txt x={p.raX} y={p.raY}>RA (ms/V)</Txt>
      <Txt x={p.afX} y={p.afY} rotate={-90}>AF (kHz)</Txt>
      <Txt x={p.capX} y={p.capY} size={50}>{p.caption}</Txt>
      <Txt x={p.pctX} y={p.pctY} size={34}>{100 - p.shear}%</Txt>
      <Txt x={p.pctX2} y={p.pctY2} size={34}>{p.shear}%</Txt>
      <LegendRow x={p.legX} top={p.legY} bottom={p.legY + 35} labelX={p.legX + 85} labelY={p.legY + 19} color="#e60012">Accumulate shear cracks</LegendRow>
      <LegendRow x={p.legX} top={p.legY + 44} bottom={p.legY + 78} labelX={p.legX + 85} labelY={p.legY + 63} color="#2279b8">Accumulate tensile cracks</LegendRow>
    </>
  );
}

const diagonal = [{ x: 0.002, y: 0.004 }, { x: 0.996, y: 0.994 }];
const regions = [
  { x: 0.178, y: 0.587, rx: 353, ry: 104, tilt: -64.4, fill: '#f3bcd5' },
  { x: 0.533, y: 0.261, rx: 401, ry: 101, tilt: -17, fill: '#0d9ad6' },
];

const regionShape = ({ cx, cy, payload }: any) => (
  <ellipse cx={cx} cy={cy} rx={payload.rx} ry={payload.ry} fill={payload.fill} transform={`rotate(${payload.tilt} ${cx} ${cy})`} />
);

function Classification() {
  return (
    <>
      <div style={{ position: 'absolute', left: 163, top: 55 }}>
        <ComposedChart width={1271} height={870} margin={{ top: 10, right: 5, left: 10, bottom: 10 }}>
          <XAxis dataKey="x" type="number" domain={[0, 1]} hide />
          <YAxis dataKey="y" type="number" domain={[0, 1]} hide />
          <Scatter data={regions} shape={regionShape} isAnimationActive={false} />
          <Line data={diagonal} dataKey="y" type="linear" stroke={ORANGE} strokeWidth={9} strokeDasharray="9 9" dot={false} activeDot={false} isAnimationActive={false} />
          <ReferenceArea x1={0} x2={1} y1={0} y2={1} fill="none" stroke="#1a1a1a" strokeWidth={10} ifOverflow="visible" />
        </ComposedChart>
      </div>
      <Txt x={408} y={391} size={50} rotate={-61} color="#2a1a1a">Tensile crack</Txt>
      <Txt x={847} y={691} size={50} rotate={-16.6} color="#2a1a1a">Shear crack</Txt>
      <Txt x={1218} y={113} size={50}>Af</Txt>
      <Txt x={1270} y={129} size={26}>max</Txt>
      <Txt x={1328} y={198} size={50}>RA</Txt>
      <Txt x={1389} y={215} size={26}>max</Txt>
      <div style={{ ...SERIF, left: 869, top: 452, fontSize: 50, color: ORANGE }}>
        k value=Af<span style={{ fontSize: 28, verticalAlign: '-0.35em' }}>max</span>/RA<span style={{ fontSize: 28, verticalAlign: '-0.35em' }}>max</span>
      </div>
      <Txt x={821} y={955} size={50}>RA(ms/V)</Txt>
      <Txt x={99} y={448} size={50} rotate={-90}>AF(kHz)</Txt>
      <Txt x={775} y={1003} size={51}>(a)RA-AF crack classification</Txt>
    </>
  );
}

export default function App() {
  return (
    <div style={{ position: 'absolute', left: 0, top: 0, width: 3230, height: 3056, background: '#fff', overflow: 'hidden' }}>
      <Classification />
      <Panel id="b" left={1751} right={3019} top={61} bottom={867} max={800} afTicks={afTicks800} bands={bandsB} dots={dotsB} line={lineB}
        barLeft={3038} barLo={0.0426} barHi={0.3149} barTicks={barTicks} shear={9} pieX={2739} pieY={432} titleX={3062}
        k="k=48.67" kX={2124} kY={528} raX={2385} raY={960} afX={1636} afY={462} capX={2390} capY={1003} caption="(b)Cycle 0 times"
        pctX={2814} pctY={273} pctX2={2665} pctY2={658} legX={2512} legY={683} />
      <Panel id="c" left={161} right={1431} top={1051} bottom={1856} max={800} afTicks={afTicks800} bands={bandsC} dots={dotsC} line={lineC}
        barLeft={1449} barLo={0.0426} barHi={0.3142} barTicks={barTicks} shear={13} pieX={1129} pieY={1361} titleX={1475}
        k="k=43.78" kX={585} kY={1501} raX={795} raY={1950} afX={50} afY={1452} capX={764} capY={1996} caption="(c)Cycle 5 times"
        pctX={1234} pctY={1208} pctX2={1023} pctY2={1583} legX={901} legY={1612} />
      <Panel id="d" left={1749} right={3020} top={1051} bottom={1856} max={600} afTicks={afTicks600} bands={bandsD} dots={dotsD} line={lineD}
        barLeft={3037} barLo={0.0426} barHi={0.3142} barTicks={barTicks} shear={12} pieX={2742} pieY={1342} titleX={3063}
        k="k=35.32" kX={2207} kY={1471} raX={2385} raY={1950} afX={1638} afY={1452} capX={2392} capY={2000} caption="(d)Cycle 10 times"
        pctX={2839} pctY={1189} pctX2={2645} pctY2={1566} legX={2514} legY={1594} />
      <Panel id="e" left={161} right={1431} top={2043} bottom={2852} max={600} afTicks={afTicks600} bands={bandsE} dots={dotsE} line={lineE}
        barLeft={1449} barLo={0.0395} barHi={0.3547} barTicks={barTicksE} shear={14} pieX={1129} pieY={2327} titleX={1475}
        k="k=33.27" kX={607} kY={2492} raX={795} raY={2945} afX={50} afY={2447} capX={764} capY={2994} caption="(e)Cycle 20 times"
        pctX={1242} pctY={2178} pctX2={1015} pctY2={2548} legX={901} legY={2579} />
      <Panel id="f" left={1749} right={3020} top={2043} bottom={2852} max={700} afTicks={afTicks700} bands={bandsF} dots={dotsF} line={lineF}
        barLeft={3037} barLo={0.04} barHi={0.3405} barTicks={barTicks} shear={12} pieX={2711} pieY={2367} titleX={3063}
        k="k=36.88" kX={2234} kY={2498} raX={2385} raY={2945} afX={1638} afY={2447} capX={2390} capY={3000} caption="(f)Cycle 40 times"
        pctX={2808} pctY={2213} pctX2={2612} pctY2={2591} legX={2483} legY={2619} />
    </div>
  );
}
